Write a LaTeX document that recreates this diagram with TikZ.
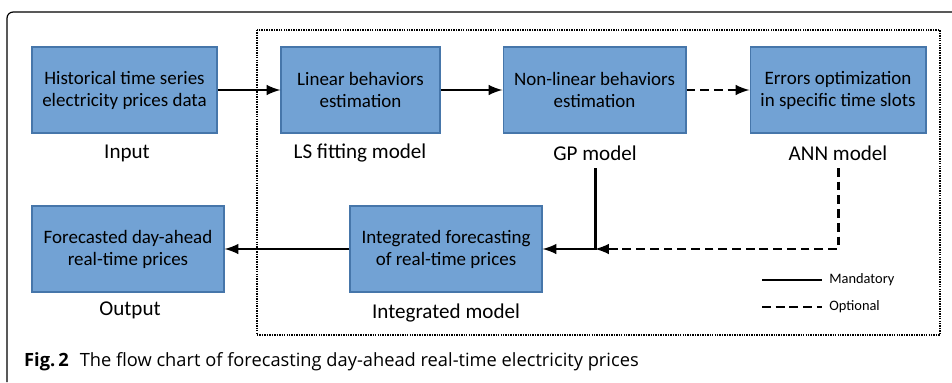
\documentclass[tikz,border=0pt]{standalone}
\usepackage{fontspec}
\setmainfont{Carlito}
\newfontfamily\capfont{Open Sans}
\usepackage{tikz}
\usetikzlibrary{calc}

\definecolor{boxblue}{RGB}{114,162,212}
\definecolor{boxedge}{RGB}{70,118,170}

\tikzset{
  blockbox/.style = {draw = boxedge, fill = boxblue, line width = 0.6pt, align = center,
    minimum height = 1.72cm, inner sep = 2pt, font = \fontsize{10.8}{12.5}\selectfont},
  modellabel/.style = {font = \fontsize{12}{14}\selectfont},
  mand/.style = {line width = 1.7pt},
  opt/.style = {line width = 1.7pt, dash pattern = on 5pt off 2.8pt},
}

\begin{document}
\begin{tikzpicture}[x = 0.02cm, y = -0.02cm]
					\useasboundingbox (0,0) rectangle (952,382);

					% frame and dotted region
					\begin{scope}
						\draw [line width = 0.7pt, rounded corners = 3.5pt] (952,12) -- (7,12) -- (7,382);
						\draw [line width = 0.8pt, dash pattern = on 0.8pt off 0.6pt] (257,30) rectangle (940,335);
					\end{scope}

					% blocks
					\begin{scope}
						\node [blockbox, minimum width = 3.7cm] (hist) at (124.5,90) {Historical time series\\electricity prices data};
						\node [blockbox, minimum width = 3.18cm] (linear) at (360.5,90) {Linear behaviors\\estimation};
						\node [blockbox, minimum width = 3.66cm] (nonlin) at (594.5,90) {Non-linear behaviors\\estimation};
						\node [blockbox, minimum width = 3.52cm] (errors) at (838,90) {Errors optimization\\in specific time slots};
						\node [blockbox, minimum width = 3.84cm] (fcast) at (128,249) {Forecasted day-ahead\\real-time prices};
						\node [blockbox, minimum width = 3.84cm] (integ) at (446,249) {Integrated forecasting\\of real-time prices};
					\end{scope}

					% labels
					\begin{scope}
						\node [modellabel] (inlab) at (127,153) {Input};
						\node [modellabel] (lslab) at (360,153) {LS fitting model};
						\node [modellabel] (gplab) at (595,153) {GP model};
						\node [modellabel] (annlab) at (838,153) {ANN model};
						\node [modellabel] (outlab) at (130,310) {Output};
						\node [modellabel] (intlab) at (446,313) {Integrated model};
					\end{scope}

					\coordinate (gptop) at (595,168);
					\coordinate (gpjoin) at (595,249);
					\coordinate (anntop) at (838,168);

					% connectors
					\begin{scope}[-latex]
						\draw [mand] (hist) -- (linear);
						\draw [mand] (linear) -- (nonlin);
						\draw [opt] (nonlin) -- (errors);
						\draw [mand] (gptop) |- (integ.east);
						\draw [opt] (anntop) |- (gpjoin);
						\draw [mand] (integ) -- (fcast);
					\end{scope}

					% legend
					\coordinate (mandA) at (762,280);
					\coordinate (mandB) at (822,280);
					\coordinate (optA) at (762,307);
					\coordinate (optB) at (822,307);
					\draw [mand] (mandA) -- (mandB) node [right, font = \fontsize{8.2}{10}\selectfont] (mandlab) {Mandatory};
					\draw [opt] (optA) -- (optB) node [right, font = \fontsize{8.2}{10}\selectfont] (optlab) {Optional};

					% caption
					\node [anchor = west, font = \capfont\fontsize{10.4}{12}\selectfont] (caption) at (18,362) {\textbf{Fig.\,2}\hspace{0.6em}The flow chart of forecasting day-ahead real-time electricity prices};
				\end{tikzpicture}
\end{document}
